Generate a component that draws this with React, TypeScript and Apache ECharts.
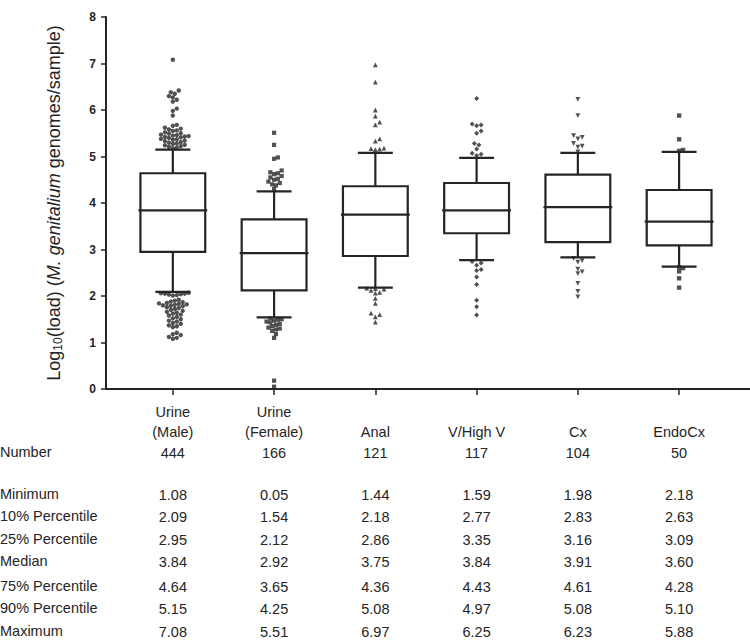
import React, { useEffect, useRef } from "react";
import * as echarts from "echarts";

// ---------- data ----------
const categories = ["Urine\n(Male)", "Urine\n(Female)", "Anal", "V/High V", "Cx", "EndoCx"];
const sampleCounts = [444, 166, 121, 117, 104, 50];
const minimum = [1.08, 0.05, 1.44, 1.59, 1.98, 2.18];
const p10 = [2.09, 1.54, 2.18, 2.77, 2.83, 2.63];
const p25 = [2.95, 2.12, 2.86, 3.35, 3.16, 3.09];
const median = [3.84, 2.92, 3.75, 3.84, 3.91, 3.6];
const p75 = [4.64, 3.65, 4.36, 4.43, 4.61, 4.28];
const p90 = [5.15, 4.25, 5.08, 4.97, 5.08, 5.1];
const maximum = [7.08, 5.51, 6.97, 6.25, 6.23, 5.88];
const rowLabels = [
  "Number",
  "Minimum",
  "10% Percentile",
  "25% Percentile",
  "Median",
  "75% Percentile",
  "90% Percentile",
  "Maximum",
];

// outliers (beyond 10th / 90th percentile)
const urineMaleOut = [
  7.08, 6.42, 6.38, 6.35, 6.3, 6.27, 6.22, 6.18, 6.03, 5.98, 5.88,
  5.68, 5.66, 5.62, 5.6, 5.58, 5.56, 5.55, 5.52, 5.5, 5.49, 5.47, 5.46, 5.45, 5.44, 5.43, 5.42,
  5.41, 5.4, 5.38, 5.37, 5.36, 5.34, 5.33, 5.31, 5.3, 5.28, 5.27, 5.25, 5.24, 5.22, 5.21, 5.19, 5.18,
  2.07, 2.06, 2.05, 2.05, 2.04, 2.03, 2.02, 2.01,
  1.92, 1.9, 1.88, 1.87, 1.85, 1.84, 1.83, 1.82, 1.81, 1.8, 1.79, 1.78, 1.76, 1.74, 1.72, 1.7,
  1.68, 1.66, 1.64, 1.62, 1.6, 1.58, 1.55, 1.52, 1.5, 1.47, 1.45, 1.42, 1.4, 1.37, 1.35, 1.33,
  1.21, 1.18, 1.16, 1.12, 1.1, 1.08,
];
const urineFemaleOut = [
  5.51, 5.25, 4.98, 4.95, 4.7, 4.66, 4.64, 4.62, 4.58, 4.55, 4.52, 4.5, 4.46, 4.43, 4.4, 4.38, 4.3,
  1.52, 1.5, 1.49, 1.47, 1.45, 1.43, 1.4, 1.38, 1.35, 1.32, 1.3, 1.28, 1.25, 1.18, 1.1, 0.18, 0.05,
];
const analOut = [
  6.97, 6.6, 6.0, 5.87, 5.74, 5.68, 5.38, 5.33, 5.18, 5.17, 5.16, 5.15,
  2.17, 2.16, 2.15, 2.12, 2.08, 2.06, 1.95, 1.84, 1.63, 1.6, 1.55, 1.44,
];
const vHighVOut = [
  6.25, 5.7, 5.68, 5.66, 5.55, 5.5, 5.28, 5.25, 5.16, 5.07, 5.05, 5.02,
  2.74, 2.71, 2.66, 2.57, 2.55, 2.41, 2.25, 1.91, 1.77, 1.59,
];
const cxOut = [
  6.23, 5.88, 5.45, 5.41, 5.38, 5.28, 5.22, 5.2, 5.1,
  2.81, 2.76, 2.73, 2.58, 2.52, 2.48, 2.27, 2.1, 1.98,
];
const endoCxOut = [5.88, 5.37, 5.14, 5.12, 2.62, 2.6, 2.53, 2.38, 2.18];
const outlierGroups = [urineMaleOut, urineFemaleOut, analOut, vHighVOut, cxOut, endoCxOut];

const yTickValues = [0, 1, 2, 3, 4, 5, 6, 7, 8];

// ---------- layout / style ----------
const W = 750;
const H = 641;
const GRID_LEFT = 106;
const GRID_TOP = 17;
const GRID_BOTTOM = 252;
const X_MIN = -0.66;
const X_MAX = 5.7;
const Y_MIN = 0;
const Y_MAX = 8;
const GRID_W = W - GRID_LEFT;
const GRID_H = H - GRID_TOP - GRID_BOTTOM;
const INK = "#252525";
const FONT = "'Liberation Sans', Arial, Helvetica, sans-serif";
const ROW_Y = [453, 495, 517, 540, 562, 587, 609, 632];

const markerDefs = [
  { symbol: "circle", size: 4.4, rotate: 0 },
  { symbol: "rect", size: 4.2, rotate: 0 },
  { symbol: "triangle", size: 4.8, rotate: 0 },
  { symbol: "diamond", size: 5, rotate: 0 },
  { symbol: "triangle", size: 4.8, rotate: 180 },
  { symbol: "rect", size: 4.4, rotate: 0 },
];

// simple beeswarm layout (deterministic) in pixel space, returned in data units
function swarm(values: number[], cat: number, d: number): number[][] {
  const pxX = GRID_W / (X_MAX - X_MIN);
  const pxY = GRID_H / (Y_MAX - Y_MIN);
  const sorted = [...values].sort((a, b) => a - b);
  const placed: number[][] = [];
  const step = d * 0.5;
  for (const v of sorted) {
    const yPx = v * pxY;
    let chosen = 0;
    for (let k = 0; k < 60; k++) {
      const cand = k === 0 ? 0 : (k % 2 === 1 ? 1 : -1) * Math.ceil(k / 2) * step;
      const ok = placed.every(([px, py]) => Math.hypot(px - cand, py - yPx) >= d);
      if (ok) {
        chosen = cand;
        break;
      }
    }
    placed.push([chosen, yPx]);
  }
  return placed.map(([px], idx) => [cat + px / pxX, sorted[idx]]);
}

export default function App() {
  const ref = useRef<HTMLDivElement>(null);

  useEffect(() => {
    if (!ref.current) return;
    const chart = echarts.init(ref.current, null, { renderer: "svg" });

    const boxData = categories.map((_, i) => [i, p10[i], p25[i], median[i], p75[i], p90[i]]);
    const tableData = categories.map((_, i) => [i, 0]);

    const scatterSeries = outlierGroups.map((vals, i) => ({
      type: "scatter",
      name: categories[i],
      data: swarm(vals, i, markerDefs[i].size * 0.9),
      symbol: markerDefs[i].symbol,
      symbolSize: markerDefs[i].size,
      symbolRotate: markerDefs[i].rotate,
      itemStyle: { color: INK },
      z: 3,
    }));

    const option: any = {
      animation: false,
      backgroundColor: "#ffffff",
      grid: { left: GRID_LEFT, top: GRID_TOP, bottom: GRID_BOTTOM, right: 0, containLabel: false },
      xAxis: {
        type: "value",
        min: X_MIN,
        max: X_MAX,
        splitLine: { show: false },
        axisLine: { show: true, onZero: false, lineStyle: { color: INK, width: 2 } },
        axisTick: {
          show: true,
          customValues: categories.map((_, i) => i),
          length: 6,
          lineStyle: { color: INK, width: 1.5 },
        },
        axisLabel: {
          show: true,
          customValues: categories.map((_, i) => i),
          formatter: (v: number) => categories[Math.round(v)] ?? "",
          verticalAlign: "bottom",
          margin: 53,
          lineHeight: 20,
          fontSize: 14.5,
          fontFamily: FONT,
          color: INK,
        },
      },
      yAxis: {
        type: "value",
        min: Y_MIN,
        max: Y_MAX,
        interval: 1,
        splitLine: { show: false },
        axisLine: { show: true, onZero: false, lineStyle: { color: INK, width: 2 } },
        axisTick: { show: true, length: 5, lineStyle: { color: INK, width: 1.5 } },
        axisLabel: {
          formatter: (v: number) => (yTickValues.includes(v) ? String(v) : ""),
          fontSize: 12,
          fontWeight: "bold",
          fontFamily: FONT,
          color: INK,
          margin: 10,
        },
        name: "{a|Log}{s|10}{a|(load) (}{i|M. genitalium}{a| genomes/sample)}",
        nameLocation: "middle",
        nameGap: 42,
        nameRotate: 90,
        nameTextStyle: {
          color: INK,
          fontFamily: FONT,
          fontSize: 18,
          rich: {
            a: { fontSize: 18, fontFamily: FONT, color: INK, lineHeight: 21 },
            s: { fontSize: 12, fontFamily: FONT, color: INK, verticalAlign: "bottom", lineHeight: 21 },
            i: { fontSize: 18, fontFamily: FONT, color: INK, fontStyle: "italic", lineHeight: 21 },
          },
        },
      },
      graphic: rowLabels.map((t, k) => ({
        type: "text",
        left: 0,
        top: ROW_Y[k] - 9,
        style: { text: t, fontSize: 14.5, fontFamily: FONT, fill: INK },
      })),
      series: [
        {
          type: "custom",
          name: "boxes",
          data: boxData,
          encode: { x: 0, y: [1, 2, 3, 4, 5] },
          z: 2,
          renderItem: (params: any, api: any) => {
            const i = api.value(0);
            const cx = api.coord([i, 0])[0];
            const yLo = api.coord([i, api.value(1)])[1];
            const yQ1 = api.coord([i, api.value(2)])[1];
            const yMed = api.coord([i, api.value(3)])[1];
            const yQ3 = api.coord([i, api.value(4)])[1];
            const yHi = api.coord([i, api.value(5)])[1];
            const boxHalf = api.size([0.64, 0])[0] / 2;
            const medHalf = api.size([0.68, 0])[0] / 2;
            const capHalf = api.size([0.345, 0])[0] / 2;
            const ls = { stroke: INK, lineWidth: 2.2, fill: "none" };
            return {
              type: "group",
              children: [
                { type: "rect", shape: { x: cx - boxHalf, y: yQ3, width: boxHalf * 2, height: yQ1 - yQ3 }, style: { ...ls, fill: "#fff" } },
                { type: "line", shape: { x1: cx - medHalf, y1: yMed, x2: cx + medHalf, y2: yMed }, style: ls },
                { type: "line", shape: { x1: cx, y1: yQ3, x2: cx, y2: yHi }, style: ls },
                { type: "line", shape: { x1: cx, y1: yQ1, x2: cx, y2: yLo }, style: ls },
                { type: "line", shape: { x1: cx - capHalf, y1: yHi, x2: cx + capHalf, y2: yHi }, style: ls },
                { type: "line", shape: { x1: cx - capHalf, y1: yLo, x2: cx + capHalf, y2: yLo }, style: ls },
              ],
            };
          },
        },
        ...scatterSeries,
        {
          type: "custom",
          name: "table",
          data: tableData,
          encode: { x: 0, y: 1 },
          silent: true,
          renderItem: (params: any, api: any) => {
            const i = params.dataIndex;
            const cx = api.coord([i, 0])[0];
            const vals = [
              String(sampleCounts[i]),
              minimum[i].toFixed(2),
              p10[i].toFixed(2),
              p25[i].toFixed(2),
              median[i].toFixed(2),
              p75[i].toFixed(2),
              p90[i].toFixed(2),
              maximum[i].toFixed(2),
            ];
            return {
              type: "group",
              children: vals.map((t, k) => ({
                type: "text",
                x: cx,
                y: ROW_Y[k],
                style: {
                  text: t,
                  fontSize: 14.5,
                  fontFamily: FONT,
                  fill: INK,
                  align: "center",
                  verticalAlign: "middle",
                },
              })),
            };
          },
        },
      ],
    };

    chart.setOption(option);
    return () => chart.dispose();
  }, []);

  return (
    <div
      ref={ref}
      style={{ position: "absolute", left: 0, top: 0, width: W, height: H, background: "#fff" }}
    />
  );
}
